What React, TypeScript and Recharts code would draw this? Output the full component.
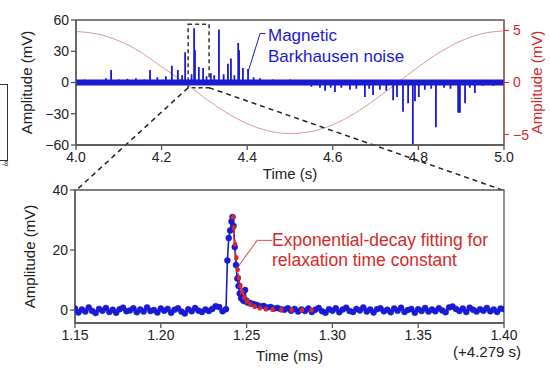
import React from 'react';
import { ComposedChart, Line, XAxis, YAxis, ReferenceArea, ReferenceLine } from 'recharts';

const FONT = '"Liberation Sans", Arial, sans-serif';
const BLUE = '#1a1ad2';
const RED = '#d42a2a';
const SINE = '#d99a9a';
const AXIS = '#555';

// ---- top panel (time in s, amplitude in mV) ----
const spikeTimes = [
  4.02, 4.045, 4.07, 4.082, 4.1, 4.12, 4.14, 4.16, 4.173, 4.19, 4.21, 4.224, 4.238, 4.248,
  4.255, 4.27, 4.276, 4.278, 4.287, 4.297, 4.305, 4.315, 4.323, 4.334, 4.345, 4.355, 4.362,
  4.37, 4.379, 4.381, 4.39, 4.402, 4.415, 4.43, 4.46, 4.5, 4.53,
  4.55, 4.57, 4.582, 4.595, 4.605, 4.62, 4.64, 4.655, 4.675, 4.685, 4.694, 4.71, 4.725,
  4.741, 4.75, 4.764, 4.776, 4.787, 4.792, 4.801, 4.815, 4.83, 4.841, 4.86, 4.875, 4.893,
  4.897, 4.909, 4.92, 4.932, 4.95, 4.975,
];
const spikeAmps = [
  3, 2.5, 4, 12, 3, 3.5, 4, 3, 12, 5, 6, 16, 12, 7,
  29, 8, 52, 31, 15, 14, 6, 9, 7, 51, 8, 18, 23,
  7, 38, 31, 14, 13, 5, 4, 3, 3, 2.5,
  -4, -5, -8, -5, -9, -5, -7, -6, -14, -6, -12, -7, -8,
  -17, -14, -28, -20, -59, -18, -14, -7, -6, -43, -5, -6, -29,
  -29, -20, -5, -10, -3, -3,
];
const floorTimes = [4.0, 5.0];
const floorValues = [0, 0];

// excitation signal, right axis
const excTimes = [4.0, 4.05, 4.1, 4.15, 4.2, 4.25, 4.3, 4.35, 4.4, 4.45, 4.5, 4.55, 4.6, 4.65, 4.7, 4.75, 4.8, 4.85, 4.9, 4.95, 5.0];
const excValues = [4.9, 4.65, 4.0, 2.95, 1.5, 0.1, -1.45, -2.85, -3.95, -4.65, -4.9, -4.7, -4.05, -3.0, -1.6, -0.05, 1.5, 2.9, 4.0, 4.7, 4.95];

const topTicks = [4.0, 4.2, 4.4, 4.6, 4.8, 5.0];
const leftTicks = [-60, -30, 0, 30, 60];
const rightTicks = [-5, 0, 5];

// ---- bottom panel (time in ms, amplitude in mV) ----
const sampleStep = 0.002;
const preStart = 1.15;
const preValues = [
  0.5, -0.8, 0.2, -0.5, 0.9, -0.3, -1.0, 0.4, -0.2, 0.7, -0.6, 0.1, -0.9, 0.3, 0.8, -0.4,
  -0.1, 0.6, -0.7, 0.2, -0.5, 0.9, -0.3, 0.0, -0.8, 0.5, -0.2, 0.4, -0.9, 0.1, 0.6, -0.5,
  -1.1, 0.3, -0.4, 0.7, -0.2, -0.6, 0.2, -0.3, 0.4, 1.3, 1.0, -0.4,
];
const pulseTimes = [
  1.238, 1.2388, 1.2396, 1.2404, 1.2412, 1.2418, 1.2424, 1.2431, 1.2438, 1.2446, 1.2453,
  1.246, 1.2468, 1.2476, 1.2484, 1.2491, 1.2498, 1.2505,
];
const pulseValues = [0.3, 16.5, 24, 26.5, 29.5, 31, 28, 21, 15, 10.5, 8, 5.5, 4, 3.5, 3, 6.7, 3.2, 2.5];
const postStart = 1.252;
const postValues = [
  2.4, 2.0, 1.7, 1.3, 1.4, 0.9, 1.0, 0.5, 0.7, 0.3, 0.1, 0.6, -0.2, 0.4, -0.5, 0.2,
  -0.3, 0.5, -0.6, 0.1, 0.7, -0.4, -0.9, 0.3, -0.2, 0.6, -0.7, 0.2, 0.8, -0.3, -0.6, 0.4,
  -0.1, 0.9, -0.5, 0.2, -0.8, 0.3, 0.6, -0.4, 0.1, -0.7, 0.5, -0.2, 0.8, -0.6, 0.0, 0.4,
  -0.9, 0.3, -0.3, 0.7, -0.5, 0.2, -0.4, 0.6, -0.1, -0.7, 0.9, 1.2, 0.4, -0.3, 0.5, -0.6,
  0.8, 0.1, -0.5, 0.3, -0.2, 0.7, -0.4, 0.2, -0.6, 0.5, 0.3,
];
const fitTimes = [
  1.2418, 1.2424, 1.2431, 1.2438, 1.2446, 1.2453, 1.2462, 1.2472, 1.2485, 1.25, 1.252,
  1.2545, 1.2575, 1.261, 1.265, 1.27, 1.276, 1.282, 1.2876,
];
const fitValues = [31, 27.5, 22, 17.5, 13.5, 10.8, 8.2, 6.1, 4.3, 3.0, 1.9, 1.2, 0.7, 0.4, 0.25, 0.15, 0.1, 0.05, 0.03];

const bottomTicks = [1.15, 1.2, 1.25, 1.3, 1.35, 1.4];
const bottomYTicks = [0, 20, 40];

// build series
const spikeData = spikeTimes.flatMap((t, i) => [
  { t, v: 0 },
  { t, v: spikeAmps[i] },
  { t, v: 0 },
]);
const floorData = floorTimes.map((t, i) => ({ t, v: floorValues[i] }));
const excData = excTimes.map((t, i) => ({ t, v: excValues[i] }));

const blueData = [
  ...preValues.map((v, i) => ({ t: +(preStart + i * sampleStep).toFixed(4), v })),
  ...pulseTimes.map((t, i) => ({ t, v: pulseValues[i] })),
  ...postValues.map((v, i) => ({ t: +(postStart + i * sampleStep).toFixed(4), v })),
];
const fitData = fitTimes.map((t, i) => ({ t, v: fitValues[i] }));

const minus = (v: number) => String(v).replace('-', '\u2212');
const tickStyle = { fontSize: 14, fill: '#222', fontFamily: FONT };

const App: React.FC = () => {
  return (
    <div style={{ position: 'relative', width: 550, height: 378, background: '#fff', fontFamily: FONT }}>
      <style>{`body{margin:0}`}</style>

      {/* cropped panel edge on the left */}
      <div style={{ position: 'absolute', left: 0, top: 84, width: 7, height: 75, border: '1.5px solid #333', borderLeft: 'none' }} />
      <div style={{ position: 'absolute', left: 2, top: 160, fontSize: 7, color: '#333' }}>-8</div>

      <div style={{ position: 'absolute', left: 0, top: 0 }}>
        <ComposedChart width={550} height={190} margin={{ top: 20, right: 0, bottom: 11, left: 0 }}>
          <XAxis
            type="number"
            dataKey="t"
            domain={[4, 5]}
            ticks={topTicks}
            tickFormatter={(v: number) => v.toFixed(1)}
            tick={tickStyle}
            tickSize={5}
            height={34}
            stroke={AXIS}
            strokeWidth={1.3}
            label={{ value: 'Time (s)', position: 'insideBottom', offset: 0, style: { fontSize: 15, fill: '#222', fontFamily: FONT } }}
          />
          <YAxis
            yAxisId="left"
            type="number"
            domain={[-60, 60]}
            ticks={leftTicks}
            tickFormatter={minus}
            tick={tickStyle}
            tickSize={5}
            width={76}
            stroke={AXIS}
            strokeWidth={1.3}
            label={{ value: 'Amplitude (mV)', angle: -90, position: 'insideLeft', offset: 27, style: { textAnchor: 'middle', fontSize: 15, fill: '#222', fontFamily: FONT } }}
          />
          <YAxis
            yAxisId="right"
            orientation="right"
            type="number"
            domain={[-6, 6]}
            ticks={rightTicks}
            tickFormatter={minus}
            tick={{ ...tickStyle, fill: RED }}
            tickLine={{ stroke: RED }}
            axisLine={{ stroke: '#b05050' }}
            tickSize={5}
            tickMargin={4}
            width={46}
            label={{ value: 'Amplitude (mV)', angle: -90, position: 'insideRight', offset: 13, style: { textAnchor: 'middle', fontSize: 15, fill: RED, fontFamily: FONT } }}
          />
          <ReferenceArea yAxisId="left" x1={4} x2={5} y1={-60} y2={60} stroke={AXIS} strokeWidth={1.3} fill="none" fillOpacity={0} />
          <Line yAxisId="right" data={excData} dataKey="v" type="monotone" stroke={SINE} strokeWidth={1} dot={false} activeDot={false} isAnimationActive={false} />
          <Line yAxisId="left" data={floorData} dataKey="v" type="linear" stroke={BLUE} strokeWidth={6} dot={false} activeDot={false} isAnimationActive={false} />
          <Line yAxisId="left" data={spikeData} dataKey="v" type="linear" stroke={BLUE} strokeWidth={1.8} dot={false} activeDot={false} isAnimationActive={false} />
          <ReferenceArea yAxisId="left" x1={4.262} x2={4.311} y1={-5} y2={56} stroke="#333" strokeWidth={1.5} strokeDasharray="4 3" fill="none" fillOpacity={0} ifOverflow="visible" />
          <ReferenceLine yAxisId="left" segment={[{ x: 4.262, y: -5 }, { x: 4.0, y: -103.7 }]} stroke="#222" strokeWidth={1.5} strokeDasharray="5 4" ifOverflow="visible" />
          <ReferenceLine yAxisId="left" segment={[{ x: 4.311, y: -5 }, { x: 5.0, y: -103.7 }]} stroke="#222" strokeWidth={1.5} strokeDasharray="5 4" ifOverflow="visible" />
          <ReferenceLine yAxisId="left" segment={[{ x: 4.402, y: 10 }, { x: 4.43, y: 47 }]} stroke={BLUE} strokeWidth={1} ifOverflow="visible" />
          <ReferenceLine yAxisId="left" segment={[{ x: 4.43, y: 47 }, { x: 4.443, y: 47 }]} stroke={BLUE} strokeWidth={1} ifOverflow="visible" />
        </ComposedChart>
      </div>

      <div style={{ position: 'absolute', left: 0, top: 180 }}>
        <ComposedChart width={550} height={198} margin={{ top: 10, right: 46, bottom: 17, left: 0 }}>
          <XAxis
            type="number"
            dataKey="t"
            domain={[1.15, 1.4]}
            ticks={bottomTicks}
            tickFormatter={(v: number) => v.toFixed(2)}
            tick={tickStyle}
            tickSize={5}
            height={38}
            stroke={AXIS}
            strokeWidth={1.3}
            allowDataOverflow
            label={{ value: 'Time (ms)', position: 'insideBottom', offset: 0, style: { fontSize: 15, fill: '#222', fontFamily: FONT } }}
          />
          <YAxis
            type="number"
            domain={[-4.3, 40]}
            ticks={bottomYTicks}
            tick={tickStyle}
            tickSize={5}
            width={75}
            stroke={AXIS}
            strokeWidth={1.3}
            allowDataOverflow
            label={{ value: 'Amplitude (mV)', angle: -90, position: 'insideLeft', offset: 30, style: { textAnchor: 'middle', fontSize: 15, fill: '#222', fontFamily: FONT } }}
          />
          <ReferenceArea x1={1.15} x2={1.4} y1={-4.3} y2={40} stroke={AXIS} strokeWidth={1.3} fill="none" fillOpacity={0} />
          <Line data={blueData} dataKey="v" type="linear" stroke={BLUE} strokeWidth={1.6} dot={{ r: 3, fill: BLUE, stroke: BLUE, strokeWidth: 0.5 }} activeDot={false} isAnimationActive={false} />
          <Line data={fitData} dataKey="v" type="monotone" stroke={RED} strokeWidth={1.6} strokeDasharray="4 3" dot={{ r: 1.8, fill: RED, stroke: RED }} activeDot={false} isAnimationActive={false} />
          <ReferenceLine segment={[{ x: 1.2438, y: 13.5 }, { x: 1.2561, y: 23.2 }]} stroke="#e06a6a" strokeWidth={1.2} ifOverflow="visible" />
          <ReferenceLine segment={[{ x: 1.2561, y: 23.2 }, { x: 1.2648, y: 23.2 }]} stroke="#e06a6a" strokeWidth={1.2} ifOverflow="visible" />
        </ComposedChart>
      </div>

      <div style={{ position: 'absolute', left: 268, top: 25, fontSize: 17, lineHeight: '21px', color: BLUE }}>
        Magnetic<br />Barkhausen noise
      </div>
      <div style={{ position: 'absolute', left: 272, top: 230, fontSize: 17.5, lineHeight: '20px', color: RED }}>
        Exponential-decay fitting for<br />relaxation time constant
      </div>
      <div style={{ position: 'absolute', right: 29, top: 343, fontSize: 15, lineHeight: '18px', color: '#222' }}>
        (+4.279 s)
      </div>
    </div>
  );
};

export default App;
